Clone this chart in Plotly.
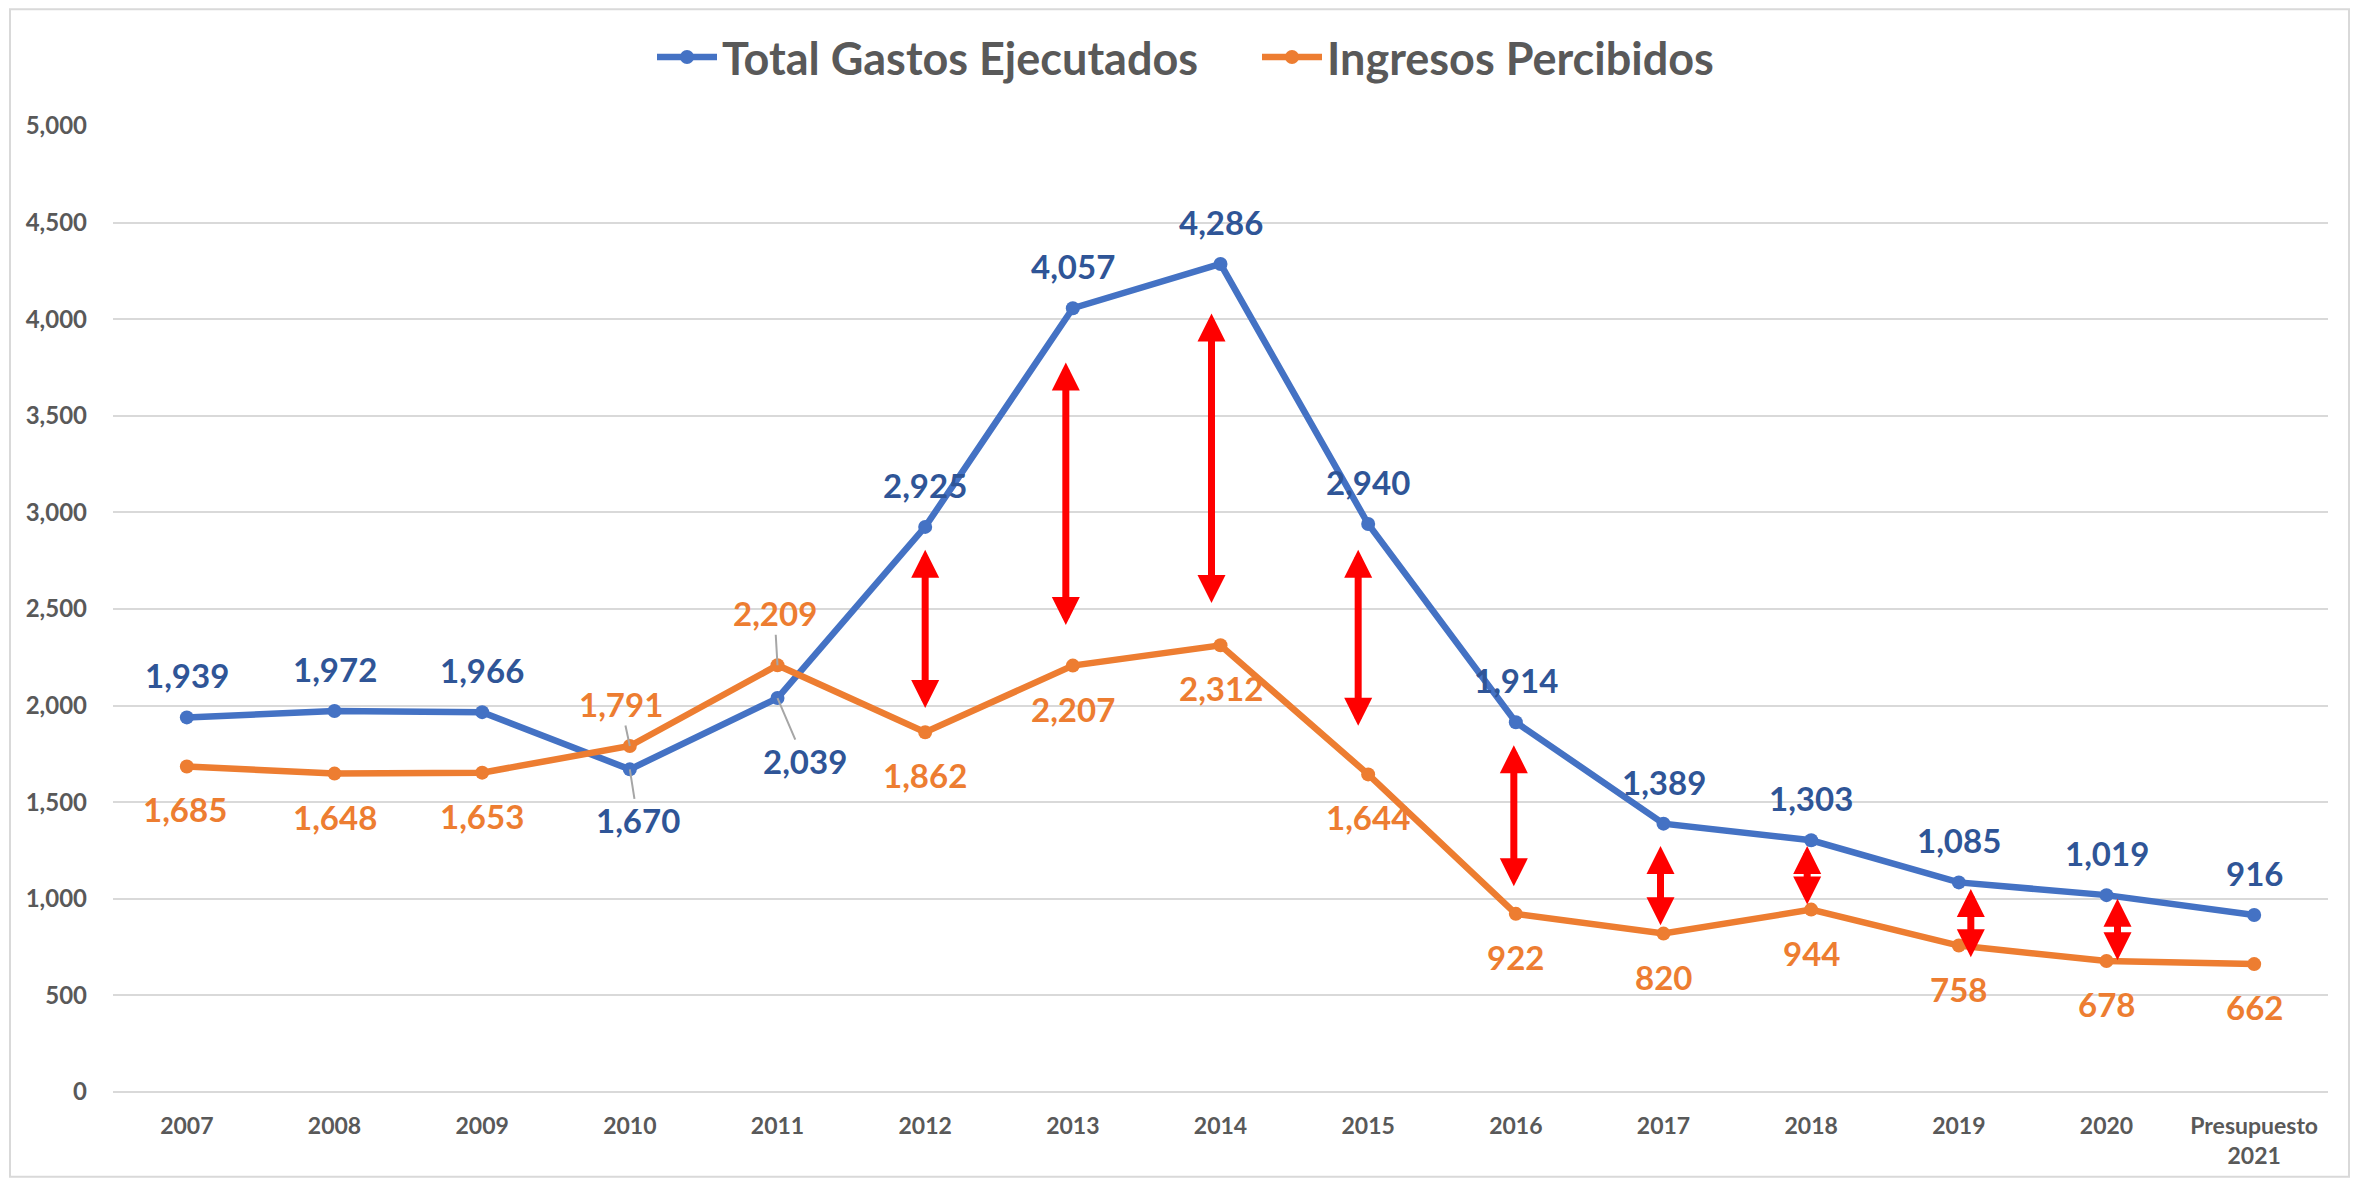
import plotly.graph_objects as go

# ---------------- data ----------------
categories = ["2007", "2008", "2009", "2010", "2011", "2012", "2013", "2014",
              "2015", "2016", "2017", "2018", "2019", "2020", "Presupuesto<br>2021"]
gastos = [1939, 1972, 1966, 1670, 2039, 2925, 4057, 4286, 2940, 1914, 1389, 1303, 1085, 1019, 916]
ingresos = [1685, 1648, 1653, 1791, 2209, 1862, 2207, 2312, 1644, 922, 820, 944, 758, 678, 662]

# gap arrows (category index, top value, bottom value)
arrow_idx = [5, 6, 7, 8, 9, 10, 11, 12, 13]
arrow_top = [2814, 3784, 4037, 2814, 1803, 1281, 1281, 1059, 1008]
arrow_bottom = [1988, 2417, 2531, 1896, 1065, 863, 971, 698, 682]

# ---------------- styles ----------------
PAGE_W, PAGE_H = 2359, 1189
OFF = 8  # default body margin of the html page
W, H = PAGE_W - 2 * OFF, PAGE_H - 2 * OFF

# plot area in page pixels
PL, PR, PT, PB = 113, 2328, 126, 1095
ML, MT = PL - OFF, PT - OFF
MR, MB = W - (PR - OFF), H - (PB - OFF)
PW, PH = PR - PL, PB - PT

BLUE = "#4472C4"
ORANGE = "#ED7D31"
BLUE_LBL = "#2F5597"
ORANGE_LBL = "#ED7D31"
GRAY_TXT = "#595959"
GRID = "#D9D9D9"
FONT = "Lato"

arrow_xshift = [0, -7, -9, -10, -2, -3, -4, 12, 11]

# label offsets in px (dx right, up positive), leader flags
blue_dx = [0, 0, 0, 8, 27, 0, 0, 0, 0, 0, 0, 0, 0, 0, 0]
blue_up = [42, 42, 42, -51, -63, 42, 42, 42, 42, 42, 42, 42, 42, 42, 42]
orange_dx = [-2, 0, 0, -9, -3, 0, 0, 0, 0, 0, 0, 0, 0, 0, 0]
orange_up = [-43, -43, -43, 42, 52, -43, -43, -43, -43, -43, -43, -43, -43, -43, -43]
leader = [False, False, False, True, True] + [False] * 10

fig = go.Figure()
fig.add_trace(go.Scatter(
    x=categories, y=gastos, name="Total Gastos Ejecutados",
    mode="lines+markers",
    line=dict(color=BLUE, width=6.5),
    marker=dict(color=BLUE, size=14),
))
fig.add_trace(go.Scatter(
    x=categories, y=ingresos, name="Ingresos Percibidos",
    mode="lines+markers",
    line=dict(color=ORANGE, width=6.5),
    marker=dict(color=ORANGE, size=14),
))

annotations = []
lbl_font_b = dict(family=FONT, size=33, color=BLUE_LBL, weight=700)
lbl_font_o = dict(family=FONT, size=33, color=ORANGE_LBL, weight=700)


def add_labels(values, dxs, ups, font):
    for i, v in enumerate(values):
        if leader[i]:
            annotations.append(dict(x=i, y=v, xref="x", yref="y", text=f"{v:,}",
                                    showarrow=True, arrowhead=0, arrowwidth=2,
                                    arrowcolor="#A6A6A6", ax=dxs[i], ay=-ups[i],
                                    font=font))
        else:
            annotations.append(dict(x=i, y=v, xref="x", yref="y", text=f"{v:,}",
                                    showarrow=False, xshift=dxs[i], yshift=ups[i],
                                    font=font))


add_labels(gastos, blue_dx, blue_up, lbl_font_b)
add_labels(ingresos, orange_dx, orange_up, lbl_font_o)

for k, idx in enumerate(arrow_idx):
    annotations.append(dict(
        x=idx, y=arrow_bottom[k], ax=idx, ay=arrow_top[k],
        xref="x", yref="y", axref="x", ayref="y", text="",
        showarrow=True, arrowside="end+start",
        arrowhead=2, startarrowhead=2, arrowsize=0.8, startarrowsize=0.8,
        arrowwidth=7, arrowcolor="#FF0000", xshift=arrow_xshift[k],
    ))


def px_x(p):
    return (p - PL) / PW


def px_y(p):
    return (PB - p) / PH


fig.add_shape(type="rect", xref="paper", yref="paper",
              x0=px_x(10), x1=px_x(2349), y0=px_y(1180), y1=px_y(9),
              line=dict(color=GRID, width=2), fillcolor="rgba(0,0,0,0)", layer="below")

fig.update_layout(
    width=W, height=H,
    margin=dict(l=ML, r=MR, t=MT, b=MB, pad=0),
    paper_bgcolor="white", plot_bgcolor="white",
    font=dict(family=FONT, color=GRAY_TXT),
    showlegend=True,
    legend=dict(orientation="h", x=px_x(652), xanchor="left",
                y=px_y(57), yanchor="middle",
                font=dict(family=FONT, size=45, color=GRAY_TXT, weight=700),
                itemwidth=60,
                entrywidth=530, entrywidthmode="pixels",
                bgcolor="rgba(0,0,0,0)"),
    annotations=annotations,
    xaxis=dict(type="category", range=[-0.5, 14.5], showgrid=False, zeroline=False,
               showline=False, ticks="",
               tickfont=dict(family=FONT, size=23, color=GRAY_TXT, weight=700),
               ticklabelstandoff=18),
    yaxis=dict(range=[0, 5000], dtick=500, tickformat=",", showgrid=True,
               gridcolor=GRID, gridwidth=2, zeroline=True, zerolinecolor=GRID,
               zerolinewidth=2, showline=False, ticks="",
               tickfont=dict(family=FONT, size=24, color=GRAY_TXT, weight=700),
               ticklabelstandoff=25),
)

fig.write_html("out.html")
